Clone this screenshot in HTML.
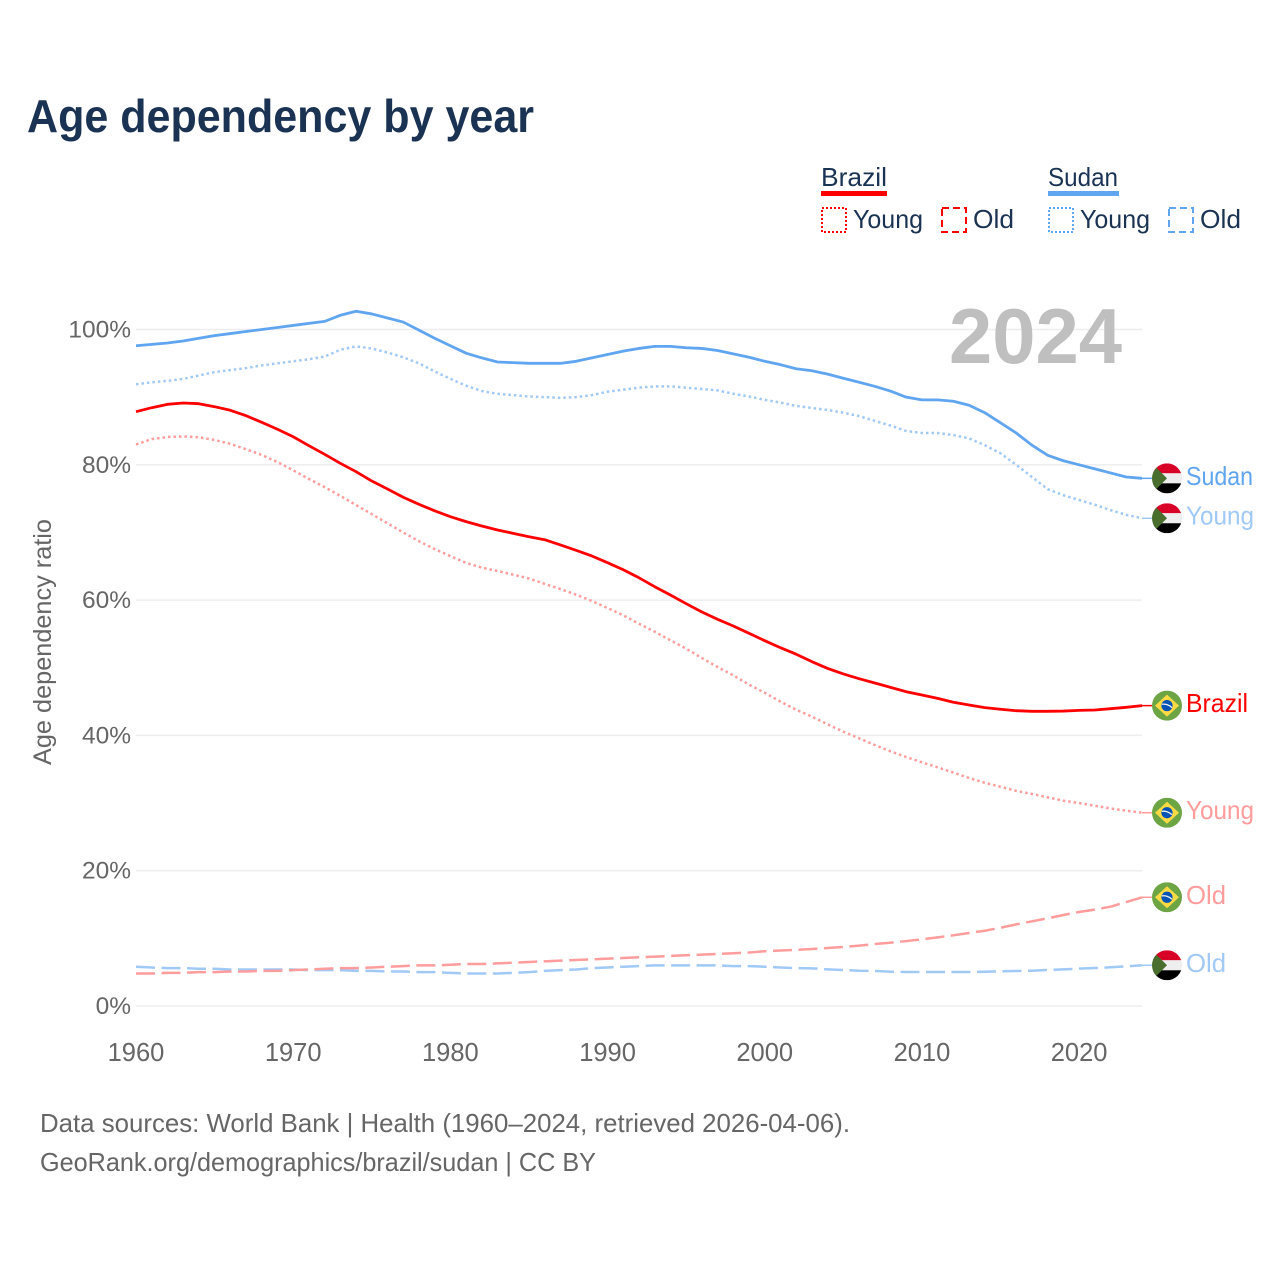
<!DOCTYPE html>
<html lang="en">
<head>
<meta charset="utf-8">
<title>Age dependency by year</title>
<style>
html,body{margin:0;padding:0;background:#fff;}
svg{display:block;font-family:"Liberation Sans",sans-serif;}
</style>
</head>
<body>
<svg id="chart" xmlns="http://www.w3.org/2000/svg" width="1280" height="1280" viewBox="0 0 1280 1280">
  <defs>
    <clipPath id="flag-clip"><circle cx="0" cy="0" r="15"/></clipPath>
    <g id="flag-sudan" clip-path="url(#flag-clip)">
      <rect x="-15" y="-15" width="30" height="10" fill="#d80027"/>
      <rect x="-15" y="-5" width="30" height="10" fill="#eeeeee"/>
      <rect x="-15" y="5" width="30" height="10" fill="#000000"/>
      <polygon points="-15,-15 -15,15 0,0" fill="#496e2d"/>
    </g>
    <g id="flag-brazil" clip-path="url(#flag-clip)">
      <rect x="-15" y="-15" width="30" height="30" fill="#6da544"/>
      <polygon points="0,-11 12,0 0,11 -12,0" fill="#ffda44"/>
      <circle r="5.6" fill="#0052b4"/>
      <path d="M-5.2,-1.4 C-1.5,-2 2.5,-0.5 5,2" fill="none" stroke="#f0f0f0" stroke-width="1.3"/>
    </g>
  </defs>

  <rect x="0" y="0" width="1280" height="1280" fill="#ffffff"/>

  <text x="27" y="132" font-size="46" font-weight="700" fill="#1a3353" textLength="507" lengthAdjust="spacingAndGlyphs">Age dependency by year</text>

  <g font-size="26" fill="#1a3353">
    <text x="821" y="186" textLength="66" lengthAdjust="spacingAndGlyphs">Brazil</text>
    <rect x="821" y="191" width="66" height="5" fill="#ff0000"/>
    <rect x="822" y="208" width="24" height="24" fill="none" stroke="#ff0000" stroke-width="2" stroke-dasharray="2 2"/>
    <text x="853" y="228" textLength="70" lengthAdjust="spacingAndGlyphs">Young</text>
    <rect x="942" y="208" width="24" height="24" fill="none" stroke="#ff0000" stroke-width="2" stroke-dasharray="7 4"/>
    <text x="973" y="228" textLength="41" lengthAdjust="spacingAndGlyphs">Old</text>
    <text x="1048" y="186" textLength="70" lengthAdjust="spacingAndGlyphs">Sudan</text>
    <rect x="1048" y="191" width="71" height="5" fill="#60a5ef"/>
    <rect x="1049" y="208" width="24" height="24" fill="none" stroke="#60a5ef" stroke-width="2" stroke-dasharray="2 2"/>
    <text x="1080" y="228" textLength="70" lengthAdjust="spacingAndGlyphs">Young</text>
    <rect x="1169" y="208" width="24" height="24" fill="none" stroke="#60a5ef" stroke-width="2" stroke-dasharray="7 4"/>
    <text x="1200" y="228" textLength="41" lengthAdjust="spacingAndGlyphs">Old</text>
  </g>

  <g id="grid"></g>
  <text x="949" y="363" font-size="78" font-weight="700" fill="#bfbfbf" textLength="173" lengthAdjust="spacingAndGlyphs">2024</text>
  <g id="y-ticks"></g>
  <g id="x-ticks"></g>
  <g id="lines"></g>
  <g id="end-markers"></g>

  <text transform="translate(51,765) rotate(-90)" font-size="25" fill="#666666" textLength="246" lengthAdjust="spacingAndGlyphs">Age dependency ratio</text>

  <text x="40" y="1132" font-size="26" fill="#666666" textLength="810" lengthAdjust="spacingAndGlyphs">Data sources: World Bank | Health (1960–2024, retrieved 2026-04-06).</text>
  <text x="40" y="1171" font-size="26" fill="#666666" textLength="556" lengthAdjust="spacingAndGlyphs">GeoRank.org/demographics/brazil/sudan | CC BY</text>
</svg>

<script>
const startYear = 1960;
const yTickValues = [0, 20, 40, 60, 80, 100];
const xTickValues = [1960, 1970, 1980, 1990, 2000, 2010, 2020];

const sudanTotal = [97.6,97.8,98.0,98.3,98.7,99.1,99.4,99.7,100.0,100.3,100.6,100.9,101.2,102.1,102.7,102.3,101.7,101.1,99.9,98.7,97.6,96.5,95.8,95.2,95.1,95.0,95.0,95.0,95.3,95.8,96.3,96.8,97.2,97.5,97.5,97.3,97.2,96.9,96.4,95.9,95.3,94.8,94.2,93.9,93.4,92.8,92.2,91.6,90.9,90.0,89.6,89.6,89.4,88.8,87.7,86.2,84.7,82.9,81.4,80.6,80.0,79.4,78.8,78.2,78.0];
const sudanYoung = [91.9,92.2,92.4,92.7,93.2,93.7,94.0,94.3,94.7,95.0,95.3,95.6,96.0,97.0,97.5,97.2,96.6,95.9,95.0,93.8,92.7,91.7,90.9,90.5,90.3,90.1,90.0,89.9,90.0,90.3,90.8,91.1,91.4,91.6,91.6,91.4,91.2,91.0,90.5,90.1,89.6,89.2,88.7,88.4,88.1,87.7,87.2,86.5,85.8,85.0,84.7,84.7,84.4,83.9,82.9,81.7,80.0,78.2,76.4,75.5,74.8,74.1,73.3,72.6,72.1];
const sudanOld = [5.8,5.7,5.6,5.6,5.5,5.5,5.4,5.4,5.4,5.4,5.4,5.3,5.3,5.3,5.2,5.2,5.1,5.1,5.0,5.0,4.9,4.8,4.8,4.8,4.9,5.0,5.2,5.3,5.4,5.6,5.7,5.8,5.9,6.0,6.0,6.0,6.0,6.0,5.9,5.9,5.8,5.7,5.6,5.57,5.42,5.32,5.22,5.17,5.07,5.03,5.03,5.03,5.03,5.03,5.07,5.13,5.17,5.22,5.32,5.42,5.52,5.62,5.72,5.86,6.02];
const brazilTotal = [87.85,88.44,88.94,89.14,89.03,88.59,88.06,87.26,86.28,85.25,84.15,82.82,81.55,80.22,78.98,77.6,76.42,75.2,74.16,73.2,72.33,71.6,70.95,70.36,69.87,69.37,68.93,68.15,67.36,66.52,65.53,64.49,63.3,61.98,60.75,59.47,58.24,57.16,56.17,55.09,54.0,52.96,52.0,50.9,49.9,49.08,48.38,47.75,47.1,46.46,45.97,45.48,44.9,44.5,44.1,43.86,43.65,43.56,43.56,43.6,43.7,43.75,43.95,44.15,44.4];
const brazilYoung = [83.0,83.8,84.1,84.2,84.06,83.67,83.1,82.3,81.45,80.4,79.2,77.9,76.7,75.4,74.06,72.7,71.35,70.0,68.7,67.55,66.5,65.5,64.8,64.3,63.76,63.2,62.4,61.64,60.8,59.87,58.83,57.75,56.5,55.33,54.06,52.82,51.44,50.11,48.88,47.5,46.3,45.0,43.8,42.77,41.64,40.55,39.57,38.58,37.65,36.8,36.02,35.28,34.5,33.7,33.0,32.4,31.8,31.34,30.85,30.35,30.0,29.6,29.2,28.87,28.57];
const brazilOld = [4.8,4.8,4.9,4.9,5.0,5.0,5.1,5.1,5.2,5.2,5.3,5.4,5.5,5.6,5.6,5.7,5.8,5.9,6.0,6.0,6.1,6.2,6.2,6.3,6.4,6.5,6.6,6.7,6.8,6.9,7.0,7.1,7.2,7.3,7.4,7.5,7.6,7.7,7.8,7.9,8.1,8.2,8.3,8.43,8.57,8.72,8.92,9.16,9.36,9.6,9.86,10.15,10.45,10.79,11.13,11.57,12.07,12.52,12.96,13.45,13.9,14.24,14.68,15.37,16.07];

const xScale = year => 136 + (year - 1960) * (1142 - 136) / 64;
const yScale = value => 1006 - value * (1006 - 329.5) / 100;
const NS = 'http://www.w3.org/2000/svg';

function make(tag, attrs, parent, text) {
  const el = document.createElementNS(NS, tag);
  Object.keys(attrs).forEach(k => el.setAttribute(k, attrs[k]));
  if (text !== undefined) el.textContent = text;
  parent.appendChild(el);
  return el;
}

const gridGroup = document.getElementById('grid');
const yTickGroup = document.getElementById('y-ticks');
yTickValues.forEach(v => {
  const line = make('line', {x1: 136, x2: 1142, y1: yScale(v), y2: yScale(v), stroke: '#eeeeee', 'stroke-width': 1.5}, gridGroup);
  
  
  const label = make('text', {x: 131, y: yScale(v) + 8, 'text-anchor': 'end', 'font-size': 24.5, fill: '#666666'}, yTickGroup, v + '%');
  
  
});

const xTickGroup = document.getElementById('x-ticks');
xTickValues.forEach(y => {
  const label = make('text', {x: xScale(y), y: 1061, 'text-anchor': 'middle', 'font-size': 25.5, fill: '#666666'}, xTickGroup, String(y));
  
  
});

const RED = '#ff0000', BLUE = '#60a5ef', LRED = '#ff9c9c', LBLUE = '#a0c9f6';
const DOT = '2.5 3', DASH = '19 6.5';
const lineGroup = document.getElementById('lines');
const markerGroup = document.getElementById('end-markers');

function drawSeries(values, name, color, width, dash, flag, labelText, labelLen) {
  const pts = values.map((v, i) => xScale(startYear + i).toFixed(2) + ',' + yScale(v).toFixed(2));
  const last = values[values.length - 1];
  const lastX = xScale(startYear + values.length - 1);
  const lastY = yScale(last);
  const attrs = {points: pts.join(' '), fill: 'none', stroke: color, 'stroke-width': width, 'stroke-linejoin': 'round'};
  if (dash) attrs['stroke-dasharray'] = dash;
  const poly = make('polyline', attrs, lineGroup);
  
  

  const leader = make('line', {x1: lastX, x2: lastX + 10, y1: lastY, y2: lastY, stroke: color, 'stroke-width': 1.5}, markerGroup);
  
  

  const icon = make('use', {href: '#' + flag, transform: 'translate(1167,' + lastY + ')'}, markerGroup);
  
  

  const label = make('text', {x: 1186, y: lastY + 6.5, 'font-size': 26, fill: color, textLength: labelLen, lengthAdjust: 'spacingAndGlyphs'}, markerGroup, labelText);
  
  
}

drawSeries(sudanOld, 'sudan-old', LBLUE, 2.5, DASH, 'flag-sudan', 'Old', 40);
drawSeries(brazilOld, 'brazil-old', LRED, 2.5, DASH, 'flag-brazil', 'Old', 40);
drawSeries(brazilYoung, 'brazil-young', LRED, 2.5, DOT, 'flag-brazil', 'Young', 68);
drawSeries(sudanYoung, 'sudan-young', LBLUE, 2.5, DOT, 'flag-sudan', 'Young', 68);
drawSeries(brazilTotal, 'brazil-total', RED, 2.8, null, 'flag-brazil', 'Brazil', 62);
drawSeries(sudanTotal, 'sudan-total', BLUE, 2.8, null, 'flag-sudan', 'Sudan', 67);
</script>
</body>
</html>
